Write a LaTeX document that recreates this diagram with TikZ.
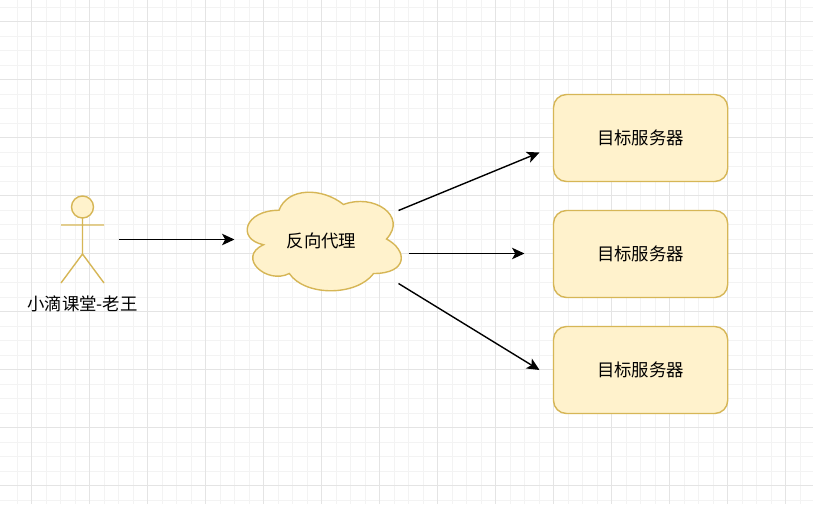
\documentclass[tikz,border=0pt]{standalone}
\usepackage{fontspec}
\setmainfont{Noto Sans CJK SC}
\usetikzlibrary{arrows.meta}
\tikzset{
  shapeline/.style={draw=strokeY,line width=1.4pt},
  shapefill/.style={shapeline,fill=fillY},
  server/.style={shapefill,rectangle,rounded corners=13pt,minimum width=174.2pt,minimum height=87pt,inner sep=0pt,font=\fontsize{17.4}{20}\selectfont},
  label/.style={inner sep=0pt,font=\fontsize{17.4}{20}\selectfont},
  conn/.style={draw=black,line width=1.4pt,-{Stealth[length=12.5pt,width=11.5pt,inset=3.2pt]}},
  gridmajor/.style={draw=gridA,line width=1pt},
  gridminor/.style={draw=gridB,line width=1pt},
}
\definecolor{strokeY}{HTML}{D6B656}
\definecolor{fillY}{HTML}{FFF2CC}
\definecolor{gridA}{HTML}{E4E4E4}
\definecolor{gridB}{HTML}{F3F3F3}
\begin{document}
\begin{tikzpicture}[x=1pt,y=-1pt]
\useasboundingbox (0,0) rectangle (813,504);
\fill[white] (0,0) rectangle (813,504);
% grid
\foreach \k in {-1,...,56} {
  \pgfmathsetmacro{\gx}{31.5+14.5*\k}
  \draw[gridminor] (\gx,0) -- (\gx,504);
}
\foreach \k in {-1,...,34} {
  \pgfmathsetmacro{\gy}{21.5+14.5*\k}
  \draw[gridminor] (0,\gy) -- (813,\gy);
}
\foreach \k in {0,...,13} {
  \pgfmathsetmacro{\gx}{31.5+58*\k}
  \draw[gridmajor] (\gx,0) -- (\gx,504);
}
\foreach \k in {0,...,8} {
  \pgfmathsetmacro{\gy}{21.5+58*\k}
  \draw[gridmajor] (0,\gy) -- (813,\gy);
}
% actor
\draw[shapeline] (82.5,218) -- (82.5,254) (61,225) -- (104,225) (61,283) -- (82.5,254) -- (104,283);
\draw[shapefill] (82.5,207) circle (11);
\node[label] (actor) at (82.5,303.5) {小滴课堂-老王};
% cloud
\draw[shapefill,x=172pt,y=-115pt,shift={(236pt,-181.5pt)}]
  (.25,.25) .. controls (.05,.25) and (0,.5) .. (.16,.55)
  .. controls (0,.66) and (.18,.9) .. (.31,.8)
  .. controls (.4,1) and (.7,1) .. (.8,.8)
  .. controls (1,.8) and (1,.6) .. (.875,.5)
  .. controls (1,.3) and (.8,.1) .. (.625,.2)
  .. controls (.5,.05) and (.3,.05) .. (.25,.25) -- cycle;
\node[label] (proxy) at (321.5,240.5) {反向代理};
% servers
\node[server] (s1) at (640.6,138) {目标服务器};
\node[server] (s2) at (640.6,254) {目标服务器};
\node[server] (s3) at (640.6,370) {目标服务器};
% connector ends
\coordinate (a0) at (118.5,239.5);
\coordinate (a1) at (234.5,239.5);
\coordinate (b0) at (398.5,210.5);
\coordinate (b1) at (539.5,152.5);
\coordinate (c0) at (408.5,253.5);
\coordinate (c1) at (524.5,253.5);
\coordinate (d0) at (398.5,283.5);
\coordinate (d1) at (539.5,370);
\draw[conn] (a0) -- (a1);
\draw[conn] (b0) -- (b1);
\draw[conn] (c0) -- (c1);
\draw[conn] (d0) -- (d1);
\end{tikzpicture}
\end{document}
